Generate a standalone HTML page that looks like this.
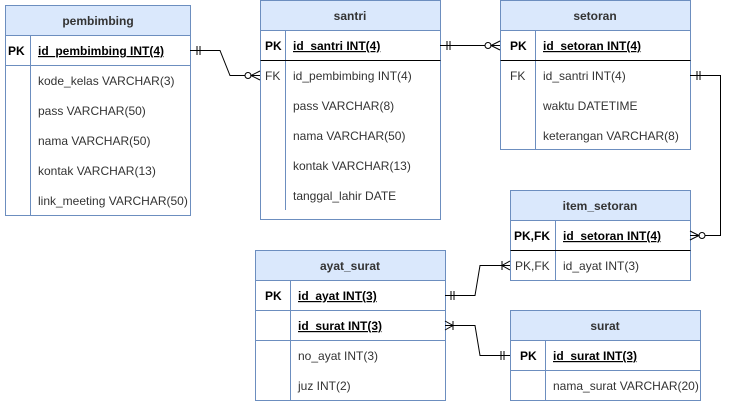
<!DOCTYPE html>
<html><head><style>body{margin:0;background:#fff}svg{display:block}</style></head><body>
<svg width="731" height="402" viewBox="0 0 731 402" xmlns="http://www.w3.org/2000/svg" font-family="Liberation Sans, Arial, sans-serif" font-size="12">
<g stroke="#6c8ebf" fill="none">
<!-- pembimbing -->
<rect x="5.5" y="5.5" width="185" height="30" fill="#dae8fc"/>
<rect x="5.5" y="35.5" width="185" height="180" fill="#fff"/>
<line x1="5.5" y1="65.5" x2="190.5" y2="65.5"/>
<line x1="30.5" y1="35.5" x2="30.5" y2="215.5"/>
<!-- santri -->
<rect x="260.5" y="0.5" width="180" height="30" fill="#dae8fc"/>
<rect x="260.5" y="30.5" width="180" height="189" fill="#fff"/>
<line x1="285.5" y1="30.5" x2="285.5" y2="210"/>
<!-- setoran -->
<rect x="500.5" y="0.5" width="190" height="30" fill="#dae8fc"/>
<rect x="500.5" y="30.5" width="190" height="119" fill="#fff"/>
<line x1="535.5" y1="30.5" x2="535.5" y2="149.5"/>
<!-- item_setoran -->
<rect x="510.5" y="190.5" width="180" height="30" fill="#dae8fc"/>
<rect x="510.5" y="220.5" width="180" height="60" fill="#fff"/>
<line x1="555.5" y1="220.5" x2="555.5" y2="280.5"/>
<!-- ayat_surat -->
<rect x="255.5" y="250.5" width="190" height="30" fill="#dae8fc"/>
<rect x="255.5" y="280.5" width="190" height="120" fill="#fff"/>
<line x1="255.5" y1="310.5" x2="445.5" y2="310.5"/>
<line x1="255.5" y1="340.5" x2="445.5" y2="340.5"/>
<line x1="290.5" y1="280.5" x2="290.5" y2="400.5"/>
<!-- surat -->
<rect x="510.5" y="310.5" width="190" height="30" fill="#dae8fc"/>
<rect x="510.5" y="340.5" width="190" height="60" fill="#fff"/>
<line x1="510.5" y1="370.5" x2="700.5" y2="370.5"/>
<line x1="545.5" y1="340.5" x2="545.5" y2="400.5"/>
</g>
<g stroke="#000">
<line x1="260.5" y1="60.5" x2="440.5" y2="60.5"/>
<line x1="500.5" y1="60.5" x2="690.5" y2="60.5"/>
<line x1="510.5" y1="250.5" x2="690.5" y2="250.5"/>
</g>
<g stroke="#000" fill="none">
<!-- conn1 -->
<path d="M190 50.5 H220 L230 75.5 H260"/>
<path d="M197 46V55M200 46V55"/>
<circle cx="248" cy="75.5" r="3" fill="#fff"/>
<path d="M260 71 L251 75.5 L260 80"/>
<!-- conn2 -->
<path d="M440 45.5 H500"/>
<path d="M447 41V50M450 41V50"/>
<circle cx="488" cy="45.5" r="3" fill="#fff"/>
<path d="M500 41 L491 45.5 L500 50"/>
<!-- conn3 -->
<path d="M690 75.5 H720.5 V235.5 H690"/>
<path d="M697 71V80M700 71V80"/>
<circle cx="702" cy="235.5" r="3" fill="#fff"/>
<path d="M690 231 L699 235.5 L690 240"/>
<!-- conn4 -->
<path d="M445 295.5 H475 L480 265.5 H510"/>
<path d="M451 291V300M454 291V300"/>
<path d="M510 261 L502 265.5 L510 270M502 261V270"/>
<!-- conn5 -->
<path d="M445 325.5 H475 L480 355.5 H510"/>
<path d="M445 321 L453 325.5 L445 330M453 321V330"/>
<path d="M501 351V360M504 351V360"/>
</g>
<g fill="#333">
<g font-weight="bold" text-anchor="middle">
<text x="98" y="25">pembimbing</text>
<text x="350" y="20">santri</text>
<text x="595" y="20">setoran</text>
<text x="600" y="210">item_setoran</text>
<text x="350" y="270">ayat_surat</text>
<text x="605" y="330">surat</text>
</g>
<g font-weight="bold" fill="#000">
<text x="8" y="55">PK</text><text x="38" y="55" text-decoration="underline">id_pembimbing INT(4)</text>
<text x="265" y="50">PK</text><text x="293" y="50" text-decoration="underline">id_santri INT(4)</text>
<text x="510" y="50">PK</text><text x="543" y="50" text-decoration="underline">id_setoran INT(4)</text>
<text x="514" y="240">PK,FK</text><text x="563" y="240" text-decoration="underline">id_setoran INT(4)</text>
<text x="265" y="300">PK</text><text x="298" y="300" text-decoration="underline">id_ayat INT(3)</text>
<text x="298" y="330" text-decoration="underline">id_surat INT(3)</text>
<text x="520" y="360">PK</text><text x="553" y="360" text-decoration="underline">id_surat INT(3)</text>
</g>
<text x="38" y="85">kode_kelas VARCHAR(3)</text>
<text x="38" y="115">pass VARCHAR(50)</text>
<text x="38" y="145">nama VARCHAR(50)</text>
<text x="38" y="175">kontak VARCHAR(13)</text>
<text x="38" y="205">link_meeting VARCHAR(50)</text>
<text x="265" y="80">FK</text>
<text x="293" y="80">id_pembimbing INT(4)</text>
<text x="293" y="110">pass VARCHAR(8)</text>
<text x="293" y="140">nama VARCHAR(50)</text>
<text x="293" y="170">kontak VARCHAR(13)</text>
<text x="293" y="200">tanggal_lahir DATE</text>
<text x="510" y="80">FK</text>
<text x="543" y="80">id_santri INT(4)</text>
<text x="543" y="110">waktu  DATETIME</text>
<text x="543" y="140">keterangan VARCHAR(8)</text>
<text x="515" y="270">PK,FK</text>
<text x="563" y="270">id_ayat INT(3)</text>
<text x="298" y="360">no_ayat INT(3)</text>
<text x="298" y="390">juz INT(2)</text>
<text x="553" y="390">nama_surat VARCHAR(20)</text>
</g>
</svg>
</body></html>
